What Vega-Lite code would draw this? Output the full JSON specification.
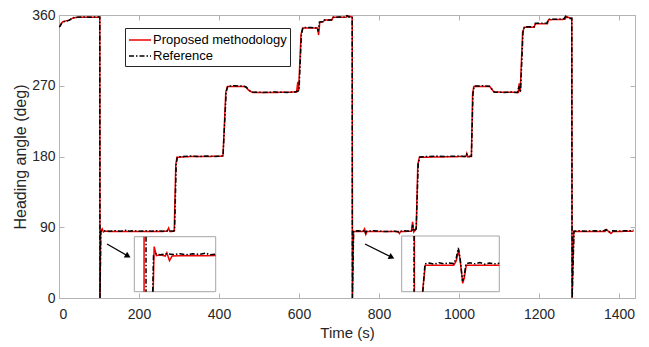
{
  "$schema": "https://vega.github.io/schema/vega-lite/v6.json",
  "width": 576,
  "height": 283,
  "autosize": {"type": "none"},
  "padding": {"left": 59, "top": 15, "right": 14, "bottom": 49},
  "background": "white",
  "config": {
    "font": "Liberation Sans",
    "view": {"stroke": "#b3b3b3", "strokeWidth": 1},
    "axis": {
      "grid": false,
      "domainColor": "#b3b3b3",
      "tickColor": "#b3b3b3",
      "tickSize": -5,
      "labelColor": "#262626",
      "titleColor": "#262626",
      "labelFont": "Liberation Sans",
      "titleFont": "Liberation Sans",
      "labelFontSize": 14,
      "titleFontWeight": "normal"
    }
  },
  "datasets": {
    "main": [
      {"s": "Proposed methodology", "t": 0, "d": 345}, {"s": "Proposed methodology", "t": 3, "d": 346.5}, {"s": "Proposed methodology", "t": 6, "d": 349.5}, {"s": "Proposed methodology", "t": 10, "d": 351.5}, {"s": "Proposed methodology", "t": 18, "d": 352.5}, {"s": "Proposed methodology", "t": 26, "d": 353.5}, {"s": "Proposed methodology", "t": 34, "d": 356}, {"s": "Proposed methodology", "t": 45, "d": 357}, {"s": "Proposed methodology", "t": 60, "d": 357}, {"s": "Proposed methodology", "t": 75, "d": 357.5}, {"s": "Proposed methodology", "t": 90, "d": 357}, {"s": "Proposed methodology", "t": 102, "d": 357}, {"s": "Proposed methodology", "t": 102.3, "d": 0}, {"s": "Proposed methodology", "t": 104.3, "d": 85}, {"s": "Proposed methodology", "t": 108, "d": 88}, {"s": "Proposed methodology", "t": 111, "d": 84}, {"s": "Proposed methodology", "t": 114, "d": 85}, {"s": "Proposed methodology", "t": 130, "d": 84.5}, {"s": "Proposed methodology", "t": 155, "d": 84.5}, {"s": "Proposed methodology", "t": 180, "d": 84.5}, {"s": "Proposed methodology", "t": 205, "d": 84.5}, {"s": "Proposed methodology", "t": 230, "d": 84.5}, {"s": "Proposed methodology", "t": 255, "d": 84.5}, {"s": "Proposed methodology", "t": 270, "d": 85}, {"s": "Proposed methodology", "t": 274, "d": 89}, {"s": "Proposed methodology", "t": 277, "d": 84.5}, {"s": "Proposed methodology", "t": 288, "d": 85}, {"s": "Proposed methodology", "t": 292, "d": 170}, {"s": "Proposed methodology", "t": 295, "d": 179}, {"s": "Proposed methodology", "t": 330, "d": 180}, {"s": "Proposed methodology", "t": 370, "d": 180}, {"s": "Proposed methodology", "t": 410, "d": 180.5}, {"s": "Proposed methodology", "t": 417, "d": 262}, {"s": "Proposed methodology", "t": 421, "d": 269}, {"s": "Proposed methodology", "t": 465, "d": 269}, {"s": "Proposed methodology", "t": 476, "d": 263.5}, {"s": "Proposed methodology", "t": 484, "d": 261.5}, {"s": "Proposed methodology", "t": 540, "d": 261.5}, {"s": "Proposed methodology", "t": 594, "d": 262}, {"s": "Proposed methodology", "t": 597, "d": 275}, {"s": "Proposed methodology", "t": 599, "d": 263}, {"s": "Proposed methodology", "t": 605, "d": 335}, {"s": "Proposed methodology", "t": 609, "d": 343.5}, {"s": "Proposed methodology", "t": 646, "d": 343.5}, {"s": "Proposed methodology", "t": 649, "d": 334.5}, {"s": "Proposed methodology", "t": 652, "d": 351}, {"s": "Proposed methodology", "t": 661, "d": 351.5}, {"s": "Proposed methodology", "t": 663, "d": 353.5}, {"s": "Proposed methodology", "t": 682, "d": 353.5}, {"s": "Proposed methodology", "t": 685, "d": 357}, {"s": "Proposed methodology", "t": 718, "d": 357}, {"s": "Proposed methodology", "t": 721, "d": 359}, {"s": "Proposed methodology", "t": 733, "d": 357.5}, {"s": "Proposed methodology", "t": 733.3, "d": 0}, {"s": "Proposed methodology", "t": 736.3, "d": 84.5}, {"s": "Proposed methodology", "t": 760, "d": 84.5}, {"s": "Proposed methodology", "t": 764, "d": 88}, {"s": "Proposed methodology", "t": 767, "d": 81}, {"s": "Proposed methodology", "t": 770, "d": 84.5}, {"s": "Proposed methodology", "t": 800, "d": 84.5}, {"s": "Proposed methodology", "t": 848, "d": 84.5}, {"s": "Proposed methodology", "t": 851, "d": 82}, {"s": "Proposed methodology", "t": 854, "d": 84.5}, {"s": "Proposed methodology", "t": 881, "d": 85}, {"s": "Proposed methodology", "t": 884, "d": 97}, {"s": "Proposed methodology", "t": 887, "d": 84}, {"s": "Proposed methodology", "t": 893, "d": 88}, {"s": "Proposed methodology", "t": 897, "d": 170}, {"s": "Proposed methodology", "t": 901, "d": 179}, {"s": "Proposed methodology", "t": 1017, "d": 180}, {"s": "Proposed methodology", "t": 1019.5, "d": 184}, {"s": "Proposed methodology", "t": 1022, "d": 179.5}, {"s": "Proposed methodology", "t": 1031, "d": 180}, {"s": "Proposed methodology", "t": 1034, "d": 260}, {"s": "Proposed methodology", "t": 1037, "d": 269}, {"s": "Proposed methodology", "t": 1077, "d": 269}, {"s": "Proposed methodology", "t": 1087, "d": 262}, {"s": "Proposed methodology", "t": 1148, "d": 261.5}, {"s": "Proposed methodology", "t": 1150.5, "d": 273}, {"s": "Proposed methodology", "t": 1153, "d": 262}, {"s": "Proposed methodology", "t": 1159, "d": 338}, {"s": "Proposed methodology", "t": 1163, "d": 344.5}, {"s": "Proposed methodology", "t": 1188, "d": 344.5}, {"s": "Proposed methodology", "t": 1191, "d": 349}, {"s": "Proposed methodology", "t": 1221, "d": 349}, {"s": "Proposed methodology", "t": 1224, "d": 354}, {"s": "Proposed methodology", "t": 1265, "d": 354.5}, {"s": "Proposed methodology", "t": 1268, "d": 358}, {"s": "Proposed methodology", "t": 1282, "d": 355.5}, {"s": "Proposed methodology", "t": 1282.5, "d": 0}, {"s": "Proposed methodology", "t": 1287, "d": 84.5}, {"s": "Proposed methodology", "t": 1365, "d": 84.5}, {"s": "Proposed methodology", "t": 1369, "d": 87}, {"s": "Proposed methodology", "t": 1374, "d": 84.5}, {"s": "Proposed methodology", "t": 1380, "d": 82}, {"s": "Proposed methodology", "t": 1385, "d": 84.5}, {"s": "Proposed methodology", "t": 1436, "d": 85},
      {"s": "Reference", "t": 0, "d": 345}, {"s": "Reference", "t": 3, "d": 346}, {"s": "Reference", "t": 6, "d": 349}, {"s": "Reference", "t": 10, "d": 351.5}, {"s": "Reference", "t": 18, "d": 352}, {"s": "Reference", "t": 26, "d": 353.5}, {"s": "Reference", "t": 34, "d": 356.5}, {"s": "Reference", "t": 45, "d": 357}, {"s": "Reference", "t": 60, "d": 357.5}, {"s": "Reference", "t": 75, "d": 357}, {"s": "Reference", "t": 90, "d": 357.5}, {"s": "Reference", "t": 102, "d": 357.5}, {"s": "Reference", "t": 102.6, "d": 0}, {"s": "Reference", "t": 104.5, "d": 85}, {"s": "Reference", "t": 112, "d": 85.5}, {"s": "Reference", "t": 125, "d": 85}, {"s": "Reference", "t": 140, "d": 85.5}, {"s": "Reference", "t": 155, "d": 85}, {"s": "Reference", "t": 170, "d": 86.5}, {"s": "Reference", "t": 175, "d": 85}, {"s": "Reference", "t": 185, "d": 85.5}, {"s": "Reference", "t": 200, "d": 85}, {"s": "Reference", "t": 215, "d": 85.5}, {"s": "Reference", "t": 230, "d": 85}, {"s": "Reference", "t": 245, "d": 85.5}, {"s": "Reference", "t": 260, "d": 85}, {"s": "Reference", "t": 275, "d": 85.5}, {"s": "Reference", "t": 285, "d": 85}, {"s": "Reference", "t": 289, "d": 86}, {"s": "Reference", "t": 293, "d": 170}, {"s": "Reference", "t": 296, "d": 179.5}, {"s": "Reference", "t": 310, "d": 180}, {"s": "Reference", "t": 330, "d": 180.5}, {"s": "Reference", "t": 350, "d": 180}, {"s": "Reference", "t": 370, "d": 180.5}, {"s": "Reference", "t": 390, "d": 180}, {"s": "Reference", "t": 405, "d": 180.5}, {"s": "Reference", "t": 410, "d": 181}, {"s": "Reference", "t": 418, "d": 262}, {"s": "Reference", "t": 422, "d": 269.5}, {"s": "Reference", "t": 440, "d": 270}, {"s": "Reference", "t": 460, "d": 269.5}, {"s": "Reference", "t": 468, "d": 268.5}, {"s": "Reference", "t": 476, "d": 264}, {"s": "Reference", "t": 484, "d": 262}, {"s": "Reference", "t": 510, "d": 261.5}, {"s": "Reference", "t": 540, "d": 262}, {"s": "Reference", "t": 570, "d": 261.5}, {"s": "Reference", "t": 590, "d": 262}, {"s": "Reference", "t": 596, "d": 263}, {"s": "Reference", "t": 600, "d": 264}, {"s": "Reference", "t": 606, "d": 335}, {"s": "Reference", "t": 610, "d": 344}, {"s": "Reference", "t": 630, "d": 344}, {"s": "Reference", "t": 646, "d": 343.5}, {"s": "Reference", "t": 648, "d": 339}, {"s": "Reference", "t": 651, "d": 351}, {"s": "Reference", "t": 660, "d": 351.5}, {"s": "Reference", "t": 662, "d": 353.5}, {"s": "Reference", "t": 681, "d": 353.5}, {"s": "Reference", "t": 684, "d": 357}, {"s": "Reference", "t": 700, "d": 357.5}, {"s": "Reference", "t": 715, "d": 357}, {"s": "Reference", "t": 720, "d": 359.5}, {"s": "Reference", "t": 724, "d": 357.5}, {"s": "Reference", "t": 733, "d": 357.5}, {"s": "Reference", "t": 733.6, "d": 0}, {"s": "Reference", "t": 736.5, "d": 85}, {"s": "Reference", "t": 745, "d": 85.5}, {"s": "Reference", "t": 760, "d": 85}, {"s": "Reference", "t": 764, "d": 87}, {"s": "Reference", "t": 766, "d": 83}, {"s": "Reference", "t": 769, "d": 85}, {"s": "Reference", "t": 785, "d": 85.5}, {"s": "Reference", "t": 800, "d": 85}, {"s": "Reference", "t": 820, "d": 84.5}, {"s": "Reference", "t": 840, "d": 85}, {"s": "Reference", "t": 850, "d": 84}, {"s": "Reference", "t": 860, "d": 85.5}, {"s": "Reference", "t": 875, "d": 85}, {"s": "Reference", "t": 882, "d": 86}, {"s": "Reference", "t": 884, "d": 93}, {"s": "Reference", "t": 886, "d": 85}, {"s": "Reference", "t": 893, "d": 88}, {"s": "Reference", "t": 898, "d": 170}, {"s": "Reference", "t": 902, "d": 179.5}, {"s": "Reference", "t": 920, "d": 180}, {"s": "Reference", "t": 945, "d": 180.5}, {"s": "Reference", "t": 970, "d": 180}, {"s": "Reference", "t": 995, "d": 180.5}, {"s": "Reference", "t": 1015, "d": 180}, {"s": "Reference", "t": 1019, "d": 183}, {"s": "Reference", "t": 1022, "d": 180}, {"s": "Reference", "t": 1031, "d": 180.5}, {"s": "Reference", "t": 1035, "d": 260}, {"s": "Reference", "t": 1038, "d": 269.5}, {"s": "Reference", "t": 1060, "d": 270}, {"s": "Reference", "t": 1076, "d": 269.5}, {"s": "Reference", "t": 1082, "d": 266}, {"s": "Reference", "t": 1088, "d": 262}, {"s": "Reference", "t": 1110, "d": 261.5}, {"s": "Reference", "t": 1130, "d": 262}, {"s": "Reference", "t": 1146, "d": 261.5}, {"s": "Reference", "t": 1150, "d": 270}, {"s": "Reference", "t": 1152, "d": 262}, {"s": "Reference", "t": 1154, "d": 264}, {"s": "Reference", "t": 1160, "d": 338}, {"s": "Reference", "t": 1164, "d": 345}, {"s": "Reference", "t": 1188, "d": 345}, {"s": "Reference", "t": 1191, "d": 349.5}, {"s": "Reference", "t": 1220, "d": 349.5}, {"s": "Reference", "t": 1223, "d": 354.5}, {"s": "Reference", "t": 1245, "d": 354.5}, {"s": "Reference", "t": 1262, "d": 355}, {"s": "Reference", "t": 1268, "d": 359.5}, {"s": "Reference", "t": 1272, "d": 355.5}, {"s": "Reference", "t": 1282, "d": 356}, {"s": "Reference", "t": 1283, "d": 0}, {"s": "Reference", "t": 1287.5, "d": 85}, {"s": "Reference", "t": 1300, "d": 85.5}, {"s": "Reference", "t": 1320, "d": 85}, {"s": "Reference", "t": 1340, "d": 85.5}, {"s": "Reference", "t": 1360, "d": 85}, {"s": "Reference", "t": 1367, "d": 87}, {"s": "Reference", "t": 1372, "d": 85}, {"s": "Reference", "t": 1378, "d": 84}, {"s": "Reference", "t": 1384, "d": 85.5}, {"s": "Reference", "t": 1400, "d": 85}, {"s": "Reference", "t": 1415, "d": 85.5}, {"s": "Reference", "t": 1430, "d": 85.5}, {"s": "Reference", "t": 1436, "d": 86.5}
    ],
    "inset1": [
      {"s": "Proposed methodology", "seg": 1, "t": 103, "d": 95}, {"s": "Proposed methodology", "seg": 1, "t": 103, "d": 70},
      {"s": "Proposed methodology", "seg": 2, "t": 105.8, "d": 70}, {"s": "Proposed methodology", "seg": 2, "t": 106.1, "d": 90.5}, {"s": "Proposed methodology", "seg": 2, "t": 106.8, "d": 86.4}, {"s": "Proposed methodology", "seg": 2, "t": 108, "d": 86.8}, {"s": "Proposed methodology", "seg": 2, "t": 109.5, "d": 86.2}, {"s": "Proposed methodology", "seg": 2, "t": 110, "d": 87.7}, {"s": "Proposed methodology", "seg": 2, "t": 110.8, "d": 84.1}, {"s": "Proposed methodology", "seg": 2, "t": 111.6, "d": 86.2}, {"s": "Proposed methodology", "seg": 2, "t": 114, "d": 86.3}, {"s": "Proposed methodology", "seg": 2, "t": 118, "d": 86.4}, {"s": "Proposed methodology", "seg": 2, "t": 122, "d": 86.3}, {"s": "Proposed methodology", "seg": 2, "t": 125, "d": 86.4},
      {"s": "Reference", "seg": 1, "t": 103.6, "d": 95}, {"s": "Reference", "seg": 1, "t": 103.6, "d": 70},
      {"s": "Reference", "seg": 2, "t": 105.65, "d": 70}, {"s": "Reference", "seg": 2, "t": 105.9, "d": 86.5}, {"s": "Reference", "seg": 2, "t": 106.5, "d": 87.2}, {"s": "Reference", "seg": 2, "t": 108, "d": 86.8}, {"s": "Reference", "seg": 2, "t": 110, "d": 87.3}, {"s": "Reference", "seg": 2, "t": 112, "d": 86.9}, {"s": "Reference", "seg": 2, "t": 114, "d": 87.3}, {"s": "Reference", "seg": 2, "t": 116, "d": 86.8}, {"s": "Reference", "seg": 2, "t": 118, "d": 87.2}, {"s": "Reference", "seg": 2, "t": 120, "d": 87}, {"s": "Reference", "seg": 2, "t": 122, "d": 87.6}, {"s": "Reference", "seg": 2, "t": 123, "d": 86.8}, {"s": "Reference", "seg": 2, "t": 125, "d": 87.1}
    ],
    "inset2": [
      {"s": "Proposed methodology", "seg": 1, "t": 732.8, "d": 95}, {"s": "Proposed methodology", "seg": 1, "t": 732.8, "d": 75},
      {"s": "Proposed methodology", "seg": 2, "t": 737.8, "d": 75}, {"s": "Proposed methodology", "seg": 2, "t": 739.5, "d": 84.5}, {"s": "Proposed methodology", "seg": 2, "t": 745, "d": 84.5}, {"s": "Proposed methodology", "seg": 2, "t": 757, "d": 84.5}, {"s": "Proposed methodology", "seg": 2, "t": 758.5, "d": 86}, {"s": "Proposed methodology", "seg": 2, "t": 760, "d": 90}, {"s": "Proposed methodology", "seg": 2, "t": 761, "d": 86}, {"s": "Proposed methodology", "seg": 2, "t": 762.5, "d": 78}, {"s": "Proposed methodology", "seg": 2, "t": 763.5, "d": 80}, {"s": "Proposed methodology", "seg": 2, "t": 764.7, "d": 84.5}, {"s": "Proposed methodology", "seg": 2, "t": 770, "d": 84.5}, {"s": "Proposed methodology", "seg": 2, "t": 785, "d": 84.5},
      {"s": "Reference", "seg": 1, "t": 732.6, "d": 95}, {"s": "Reference", "seg": 1, "t": 732.6, "d": 75},
      {"s": "Reference", "seg": 2, "t": 738, "d": 75}, {"s": "Reference", "seg": 2, "t": 739.3, "d": 85}, {"s": "Reference", "seg": 2, "t": 742, "d": 85.3}, {"s": "Reference", "seg": 2, "t": 745, "d": 84.9}, {"s": "Reference", "seg": 2, "t": 748, "d": 85.4}, {"s": "Reference", "seg": 2, "t": 751, "d": 85}, {"s": "Reference", "seg": 2, "t": 754, "d": 85.3}, {"s": "Reference", "seg": 2, "t": 757, "d": 85.1}, {"s": "Reference", "seg": 2, "t": 758.5, "d": 87}, {"s": "Reference", "seg": 2, "t": 759.8, "d": 90.7}, {"s": "Reference", "seg": 2, "t": 761, "d": 86.5}, {"s": "Reference", "seg": 2, "t": 762.4, "d": 78.8}, {"s": "Reference", "seg": 2, "t": 763.5, "d": 81}, {"s": "Reference", "seg": 2, "t": 764.5, "d": 85}, {"s": "Reference", "seg": 2, "t": 767, "d": 85.4}, {"s": "Reference", "seg": 2, "t": 770, "d": 85}, {"s": "Reference", "seg": 2, "t": 773, "d": 85.5}, {"s": "Reference", "seg": 2, "t": 776, "d": 84.9}, {"s": "Reference", "seg": 2, "t": 779, "d": 85.3}, {"s": "Reference", "seg": 2, "t": 782, "d": 85}, {"s": "Reference", "seg": 2, "t": 785, "d": 85.2}
    ],
    "arrows": [
      {"a": 1, "t": 120, "d": 68.7, "t2": 172.5, "d2": 53.4},
      {"a": 2, "t": 765, "d": 68.7, "t2": 831.75, "d2": 51.8}
    ]
  },
  "layer": [
    {
      "data": {"name": "main"},
      "encoding": {
        "x": {"field": "t", "type": "quantitative", "scale": {"domain": [0, 1440], "nice": false, "zero": false},
              "axis": {"values": [0, 200, 400, 600, 800, 1000, 1200, 1400], "format": "d", "title": "Time (s)", "titleFontSize": 15, "labelPadding": 14, "titlePadding": 4}},
        "y": {"field": "d", "type": "quantitative", "scale": {"domain": [0, 360], "nice": false, "zero": false},
              "axis": {"values": [0, 90, 180, 270, 360], "format": "d", "title": "Heading angle (deg)", "titleFontSize": 16, "labelPadding": 9, "titlePadding": 3}},
        "color": {"field": "s", "type": "nominal",
                  "scale": {"domain": ["Proposed methodology", "Reference"], "range": ["#f00000", "#000000"]},
                  "legend": {"orient": "none", "legendX": 66, "legendY": 13, "title": null, "symbolType": "M-1,0H1.75", "symbolSize": 256, "symbolStrokeWidth": 1.5, "labelFontSize": 13, "labelFont": "Liberation Sans", "labelColor": "#000000", "strokeColor": "#262626", "fillColor": "#ffffff", "padding": 3, "rowPadding": 0, "labelOffset": 7}},
        "strokeDash": {"field": "s", "type": "nominal",
                  "scale": {"domain": ["Proposed methodology", "Reference"], "range": [[1, 0], [5, 2, 1.5, 2]]},
                  "legend": {"orient": "none", "legendX": 66, "legendY": 13, "title": null, "symbolType": "M-1,0H1.75", "symbolSize": 256, "symbolStrokeWidth": 1.5, "labelFontSize": 13, "labelFont": "Liberation Sans", "labelColor": "#000000", "strokeColor": "#262626", "fillColor": "#ffffff", "padding": 3, "rowPadding": 0, "labelOffset": 7}}
      },
      "layer": [
        {"transform": [{"filter": "datum.s === 'Proposed methodology'"}], "mark": {"type": "line", "strokeWidth": 1.5, "clip": true}},
        {"transform": [{"filter": "datum.s === 'Reference'"}], "mark": {"type": "line", "strokeWidth": 1.5, "clip": true}}
      ]
    },
    {
      "data": {"name": "arrows"},
      "layer": [
        {
          "mark": {"type": "rule", "color": "#000000", "strokeWidth": 1.3},
          "encoding": {
            "x": {"field": "t", "type": "quantitative", "scale": {"domain": [0, 1440], "nice": false, "zero": false},
                  "axis": {"orient": "top", "values": [0, 200, 400, 600, 800, 1000, 1200, 1400], "labels": false, "title": null, "domain": false}},
            "y": {"field": "d", "type": "quantitative", "scale": {"domain": [0, 360], "nice": false, "zero": false},
                  "axis": {"orient": "right", "values": [0, 90, 180, 270, 360], "labels": false, "title": null, "domain": false}},
            "x2": {"field": "t2"},
            "y2": {"field": "d2"}
          }
        },
        {
          "transform": [{"filter": "datum.a === 1"}],
          "mark": {"type": "point", "shape": "triangle-right", "filled": true, "color": "#000000", "size": 45, "angle": 30, "opacity": 1},
          "encoding": {
            "x": {"field": "t2", "type": "quantitative"},
            "y": {"field": "d2", "type": "quantitative"}
          }
        },
        {
          "transform": [{"filter": "datum.a === 2"}],
          "mark": {"type": "point", "shape": "triangle-right", "filled": true, "color": "#000000", "size": 45, "angle": 26.5, "opacity": 1},
          "encoding": {
            "x": {"field": "t2", "type": "quantitative"},
            "y": {"field": "d2", "type": "quantitative"}
          }
        }
      ]
    },
    {
      "layer": [
        {
          "data": {"values": [{"t0": 100, "t1": 125, "d0": 70, "d1": 95}]},
          "mark": {"type": "rect", "fill": "#ffffff", "stroke": "#a6a6a6", "strokeWidth": 1},
          "encoding": {
            "x": {"field": "t0", "type": "quantitative", "scale": {"domain": [100, 125], "range": [75.3, 156.7], "nice": false, "zero": false}, "axis": null},
            "x2": {"field": "t1"},
            "y": {"field": "d0", "type": "quantitative", "scale": {"domain": [70, 95], "range": [276.7, 221.7], "nice": false, "zero": false}, "axis": null},
            "y2": {"field": "d1"}
          }
        },
        {
          "data": {"name": "inset1"},
          "transform": [{"filter": "datum.s === 'Proposed methodology'"}],
          "mark": {"type": "line", "color": "#f00000", "strokeWidth": 1.5},
          "encoding": {
            "x": {"field": "t", "type": "quantitative", "axis": null},
            "y": {"field": "d", "type": "quantitative", "axis": null},
            "detail": {"field": "seg", "type": "nominal"}
          }
        },
        {
          "data": {"name": "inset1"},
          "transform": [{"filter": "datum.s === 'Reference'"}],
          "mark": {"type": "line", "color": "#000000", "strokeWidth": 1.5, "strokeDash": [5, 2, 1.5, 2]},
          "encoding": {
            "x": {"field": "t", "type": "quantitative", "axis": null},
            "y": {"field": "d", "type": "quantitative", "axis": null},
            "detail": {"field": "seg", "type": "nominal"}
          }
        }
      ]
    },
    {
      "layer": [
        {
          "data": {"values": [{"t0": 725, "t1": 785, "d0": 75, "d1": 95}]},
          "mark": {"type": "rect", "fill": "#ffffff", "stroke": "#a6a6a6", "strokeWidth": 1},
          "encoding": {
            "x": {"field": "t0", "type": "quantitative", "scale": {"domain": [725, 785], "range": [342.7, 440.3], "nice": false, "zero": false}, "axis": null},
            "x2": {"field": "t1"},
            "y": {"field": "d0", "type": "quantitative", "scale": {"domain": [75, 95], "range": [276.7, 221], "nice": false, "zero": false}, "axis": null},
            "y2": {"field": "d1"}
          }
        },
        {
          "data": {"name": "inset2"},
          "transform": [{"filter": "datum.s === 'Proposed methodology'"}],
          "mark": {"type": "line", "color": "#f00000", "strokeWidth": 1.5},
          "encoding": {
            "x": {"field": "t", "type": "quantitative", "axis": null},
            "y": {"field": "d", "type": "quantitative", "axis": null},
            "detail": {"field": "seg", "type": "nominal"}
          }
        },
        {
          "data": {"name": "inset2"},
          "transform": [{"filter": "datum.s === 'Reference'"}],
          "mark": {"type": "line", "color": "#000000", "strokeWidth": 1.5, "strokeDash": [5, 2, 1.5, 2]},
          "encoding": {
            "x": {"field": "t", "type": "quantitative", "axis": null},
            "y": {"field": "d", "type": "quantitative", "axis": null},
            "detail": {"field": "seg", "type": "nominal"}
          }
        }
      ]
    }
  ],
  "resolve": {"scale": {"x": "independent", "y": "independent"}}
}
